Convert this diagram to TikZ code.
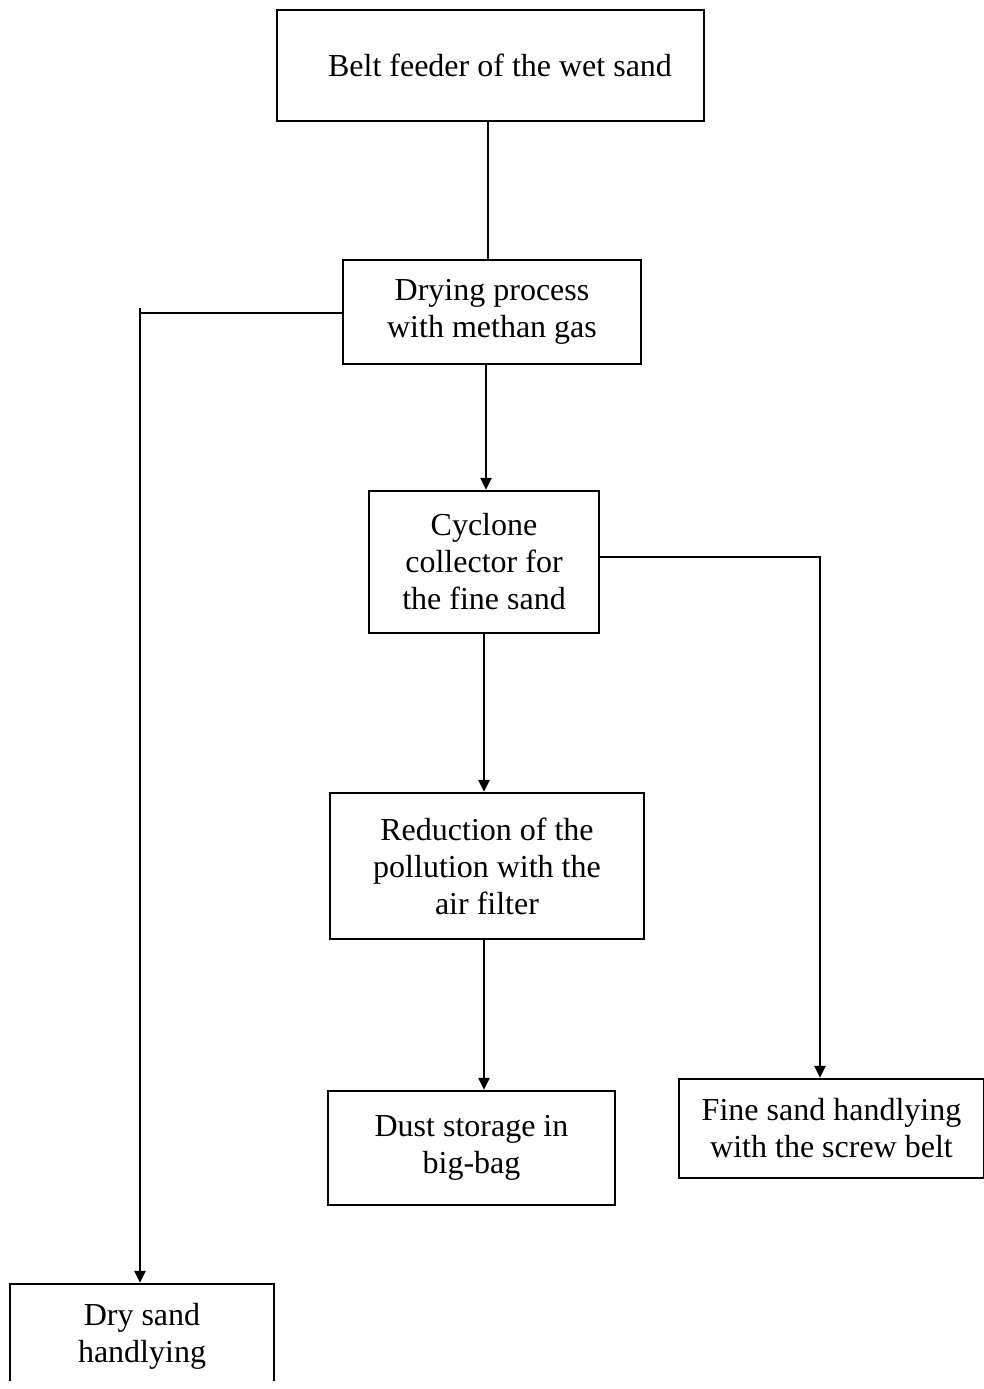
\documentclass[tikz,border=0pt]{standalone}
\usepackage{fontspec}
\setmainfont{Liberation Serif}
\usetikzlibrary{arrows.meta}
\begin{document}
\begin{tikzpicture}[x=1pt,y=-1pt,
  box/.style={draw,line width=2.5pt,rectangle,align=center,inner sep=0pt,font=\fontsize{32}{37}\selectfont},
  conn/.style={line width=2.5pt},
  arr/.style={line width=2.5pt,-{Triangle[width=11pt,length=12pt]}}]
\useasboundingbox (0,0) rectangle (984,1389);
\node[box,minimum width=427pt,minimum height=111pt] (b1) at (490.5,65.5) {\hspace*{19pt}Belt feeder of the wet sand};
\node[box,minimum width=298pt,minimum height=104pt] (b2) at (492,312) {Drying process\\with methan gas};
\node[box,minimum width=230pt,minimum height=142pt] (b3) at (484,562) {Cyclone\\collector for\\the fine sand};
\node[box,minimum width=314pt,minimum height=146pt] (b4) at (487,866) {Reduction of the\\pollution with the\\air filter};
\node[box,minimum width=287pt,minimum height=114pt] (b5) at (471.5,1148) {Dust storage in\\big-bag};
\node[box,minimum width=305pt,minimum height=99pt] (b6) at (831.5,1128.5) {Fine sand handlying\\with the screw belt};
\node[box,minimum width=264pt,minimum height=98pt,text depth=0pt] (b7) at (142,1333) {Dry sand\\handlying};
\draw[white,line width=5pt] (b7.south west) -- (b7.south east);
\coordinate (x1) at (488,0);
\coordinate (x2) at (486,0);
\coordinate (x3) at (484,0);
\coordinate (xl) at (140,313);
\coordinate (xr) at (820,557);
\draw[conn] (x1 |- b1.south) -- (x1 |- b2.north);
\draw[arr] (b2.west |- xl) -| (xl |- b7.north);
\draw[conn] (xl) -- ++(0,-5);
\draw[arr] (x2 |- b2.south) -- (x2 |- b3.north);
\draw[arr] (b3.east |- xr) -| (xr |- b6.north);
\draw[arr] (x3 |- b3.south) -- (x3 |- b4.north);
\draw[arr] (x3 |- b4.south) -- (x3 |- b5.north);
\end{tikzpicture}
\end{document}
